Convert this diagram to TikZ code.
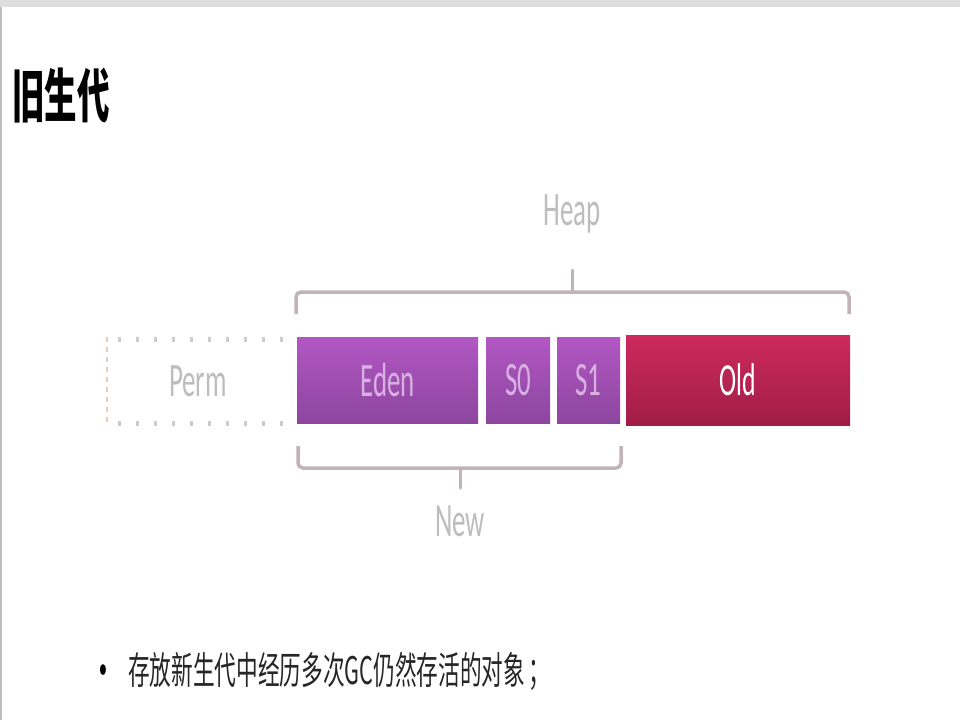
\documentclass[tikz,border=0pt]{standalone}
\usepackage{fontspec}
\usepackage{graphicx}
\setmainfont{Carlito}
\newfontfamily\cjk{Noto Sans CJK SC}
\usetikzlibrary{positioning}
\definecolor{purpTop}{HTML}{B257C4}
\definecolor{purpBot}{HTML}{8C469E}
\definecolor{oldTop}{HTML}{CC2A5C}
\definecolor{oldBot}{HTML}{A11C47}
\definecolor{braceCol}{HTML}{C2B4B6}
\definecolor{fadeTxt}{HTML}{BDBDBD}
\definecolor{fadePurp}{HTML}{D9B0E2}
\newcommand{\sq}[1]{\scalebox{0.56}[1]{#1}}
\tikzset{
  lbl/.style={inner sep=0pt, font=\fontsize{48}{50}\selectfont},
  purpbox/.style={inner sep=0pt, top color=purpTop, bottom color=purpBot, draw=none},
  oldbox/.style={inner sep=0pt, top color=oldTop, bottom color=oldBot, draw=none},
  bracepath/.style={draw=braceCol, line width=3.5pt, rounded corners=5pt},
  tippath/.style={draw=braceCol, line width=3pt, line cap=round},
  dotrow/.style={black!20, line width=5pt, dash pattern=on 3pt off 15pt},
}
\begin{document}
\begin{tikzpicture}[x=1pt,y=-1pt]
\useasboundingbox (0,0) rectangle (960,720);
\fill[white] (0,0) rectangle (960,720);
% slide frame
\fill[black!13] (0,0) rectangle (960,7);
\draw[black!25, line width=1.5pt] (0.75,7) -- (0.75,720);
% title
\node[anchor=west, inner sep=0pt, font=\cjk\bfseries\fontsize{58}{60}\selectfont] (title) at (12,96) {\sq{旧生代}};
% Perm dotted box
\draw[dotrow] (118,339) -- (292,339);
\draw[dotrow] (118,423) -- (292,423);
\draw[brown!40, line width=2pt, dash pattern=on 5pt off 5pt] (107,337) -- (107,425);
\node[lbl, text=fadeTxt] (perm) at (198,381) {\sq{Perm}};
% boxes
\node[purpbox, minimum width=181pt, minimum height=86pt] (eden) at (387.5,380) {};
\node[purpbox, minimum width=64pt, minimum height=86pt] (s0) at (518,380) {};
\node[purpbox, minimum width=63pt, minimum height=86pt] (s1) at (588.5,380) {};
\node[oldbox, minimum width=224pt, minimum height=90pt] (old) at (738,380) {};
\node[lbl, text=fadePurp] at (eden.center) {\sq{Eden}};
\node[lbl, text=fadePurp] at (s0.center) {\sq{S0}};
\node[lbl, text=fadePurp] at (s1.center) {\sq{S1}};
\node[lbl, text=white, font=\fontsize{46}{48}\selectfont] at (old.center) {\sq{Old}};
% Heap brace
\coordinate (heapL) at (296,314);
\coordinate (heapR) at (849,314);
\coordinate (heapTip) at (572,270);
\coordinate (heapMid) at (572,292);
\draw[bracepath] (heapL) -- (296,292) -- (849,292) -- (heapR);
\draw[tippath] (heapMid) -- (heapTip);
\node[lbl, text=fadeTxt] (heap) at (572,214) {\sq{Heap}};
% New brace
\coordinate (newL) at (298,446);
\coordinate (newR) at (621,446);
\coordinate (newTip) at (460,488);
\coordinate (newMid) at (460,468);
\draw[bracepath] (newL) -- (298,468) -- (621,468) -- (newR);
\draw[tippath] (newMid) -- (newTip);
\node[lbl, text=fadeTxt] (new) at (460,521) {\sq{New}};
% bullet
\node[inner sep=0pt, font=\fontsize{30}{32}\selectfont] (bul) at (103,672) {\sq{•}};
\node[anchor=west, inner sep=0pt, font=\cjk\fontsize{38}{40}\selectfont, text=black!85] (txt) at (128,671) {\scalebox{0.57}[1]{存放新生代中经历多次GC仍然存活的对象\,；}};
\end{tikzpicture}
\end{document}
